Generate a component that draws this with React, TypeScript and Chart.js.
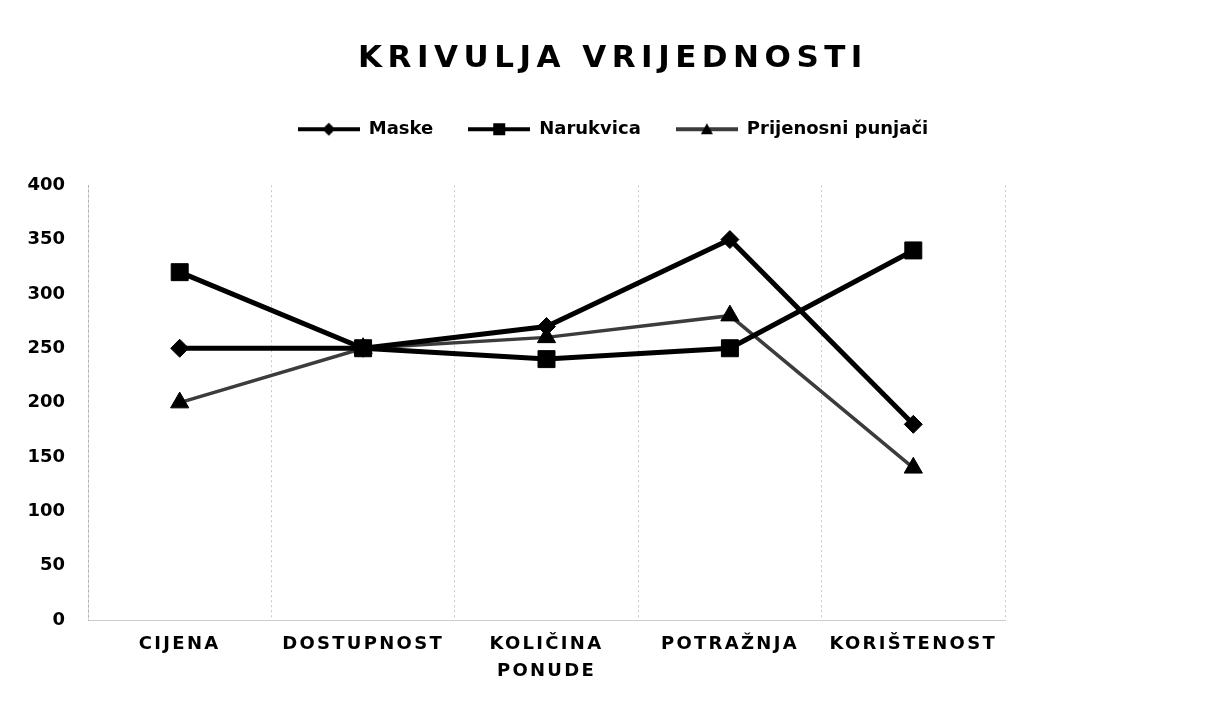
import React, { useEffect, useRef } from "react";
import { Chart, registerables } from "chart.js";

Chart.register(...registerables);

const titleText = "KRIVULJA VRIJEDNOSTI";
const categories: (string | string[])[] = ["CIJENA", "DOSTUPNOST", ["KOLIČINA", "PONUDE"], "POTRAŽNJA", "KORIŠTENOST"];
const seriesNames = ["Maske", "Narukvica", "Prijenosni punjači"];
const maske = [250, 250, 270, 350, 180];
const narukvica = [320, 250, 240, 250, 340];
const punjaci = [200, 250, 260, 280, 140];
const yMin = 0;
const yMax = 400;
const yStep = 50;

const FONT = "'DejaVu Sans', sans-serif";

function legendIcon(style: string, lineColor: string, lineWidth: number): HTMLCanvasElement {
  const c = document.createElement("canvas");
  c.width = 62;
  c.height = 20;
  const g = c.getContext("2d")!;
  g.strokeStyle = lineColor;
  g.lineWidth = lineWidth;
  g.beginPath();
  g.moveTo(0, 10);
  g.lineTo(62, 10);
  g.stroke();
  g.fillStyle = "#000";
  g.beginPath();
  const cx = 31, cy = 10;
  if (style === "rectRot") {
    g.moveTo(cx, cy - 6.5);
    g.lineTo(cx + 6.5, cy);
    g.lineTo(cx, cy + 6.5);
    g.lineTo(cx - 6.5, cy);
  } else if (style === "rect") {
    g.rect(cx - 6, cy - 6, 12, 12);
  } else {
    g.moveTo(cx, cy - 6);
    g.lineTo(cx + 6, cy + 5);
    g.lineTo(cx - 6, cy + 5);
  }
  g.closePath();
  g.fill();
  return c;
}

const layoutPlugin = {
  id: "layoutTweaks",
  beforeLayout(chart: any) {
    const l = chart.legend;
    if (l && !l.$p) {
      const f = l.fit.bind(l);
      l.fit = () => {
        f();
        l.height += 37;
      };
      l.$p = true;
    }
  },
  beforeDraw(chart: any) {
    if (chart.$sp) return;
    chart.$sp = true;
    const ctx = chart.ctx as any;
    const t = chart.titleBlock;
    if (t) {
      const d = t.draw.bind(t);
      t.draw = (a: any) => {
        ctx.letterSpacing = "5.5px";
        d(a);
        ctx.letterSpacing = "0px";
      };
    }
    const x = chart.scales.x;
    if (x) {
      const dl = x.drawLabels.bind(x);
      x.drawLabels = (a: any) => {
        ctx.letterSpacing = "2.3px";
        dl(a);
        ctx.letterSpacing = "0px";
      };
    }
  },
};

export default function App() {
  const ref = useRef<HTMLCanvasElement | null>(null);

  useEffect(() => {
    if (!ref.current) return;
    const styles = ["rectRot", "rect", "triangle"];
    const lineColors = ["#000000", "#000000", "#3c3c3c"];
    const lineWidths = [5, 5, 3.5];
    const icons = styles.map((s, i) => legendIcon(s, lineColors[i], 4));
    const values = [maske, narukvica, punjaci];

    const chart = new Chart(ref.current, {
      type: "line",
      data: {
        labels: categories as any,
        datasets: values.map((v, i) => ({
          label: seriesNames[i],
          data: v,
          borderColor: lineColors[i],
          backgroundColor: "#000000",
          borderWidth: lineWidths[i],
          pointStyle: styles[i] as any,
          pointRadius: i === 0 ? 9 : i === 1 ? 12 : 10.5,
          pointBackgroundColor: "#000000",
          pointBorderColor: "#000000",
          pointBorderWidth: 1,
          tension: 0,
          fill: false,
        })),
      },
      options: {
        animation: false,
        responsive: true,
        maintainAspectRatio: false,
        layout: { padding: { left: 11, right: 0, top: 0, bottom: 0 } },
        plugins: {
          title: {
            display: true,
            text: titleText,
            color: "#000",
            font: { family: FONT, size: 31, weight: "bold", lineHeight: 1.2 },
            padding: { top: 32, bottom: 8 },
          },
          legend: {
            display: true,
            position: "top",
            labels: {
              color: "#000",
              font: { family: FONT, size: 18, weight: "bold" },
              usePointStyle: true,
              pointStyleWidth: 62,
              padding: 35,
              generateLabels: (c: any) =>
                c.data.datasets.map((ds: any, i: number) => ({
                  text: ds.label,
                  fillStyle: "#000",
                  strokeStyle: "#000",
                  fontColor: "#000",
                  lineWidth: 0,
                  pointStyle: icons[i],
                  hidden: false,
                  datasetIndex: i,
                })),
            },
          },
          tooltip: { enabled: false },
        },
        scales: {
          x: {
            type: "category",
            offset: true,
            grid: {
              display: true,
              offset: true,
              color: "rgba(0,0,0,0.22)",
              lineWidth: 1,
              drawTicks: false,
            },
            border: { display: true, color: "rgba(0,0,0,0.2)", dash: [2, 3] },
            ticks: {
              color: "#000",
              font: { family: FONT, size: 18, weight: "bold", lineHeight: 1.5 },
              padding: 11,
              maxRotation: 0,
              minRotation: 0,
              autoSkip: false,
            },
            afterFit: (s: any) => {
              s.height = 73;
            },
          },
          y: {
            type: "linear",
            position: "left",
            min: yMin,
            max: yMax,
            grid: { display: false, drawTicks: false },
            border: { display: true, color: "rgba(0,0,0,0.15)", dash: [2, 4] },
            ticks: {
              stepSize: yStep,
              color: "#000",
              font: { family: FONT, size: 18, weight: "bold" },
              padding: 23,
            },
            afterFit: (s: any) => {
              s.width = 69;
            },
          },
          y2: {
            type: "linear",
            position: "right",
            display: true,
            grid: { display: false, drawTicks: false },
            border: { display: false },
            ticks: { display: false },
            afterFit: (s: any) => {
              s.width = 202;
            },
          },
        },
      },
      plugins: [layoutPlugin],
    });

    return () => chart.destroy();
  }, []);

  return (
    <div style={{ position: "relative", width: 1199, height: 685, background: "#fff" }}>
      <canvas ref={ref} />
    </div>
  );
}
